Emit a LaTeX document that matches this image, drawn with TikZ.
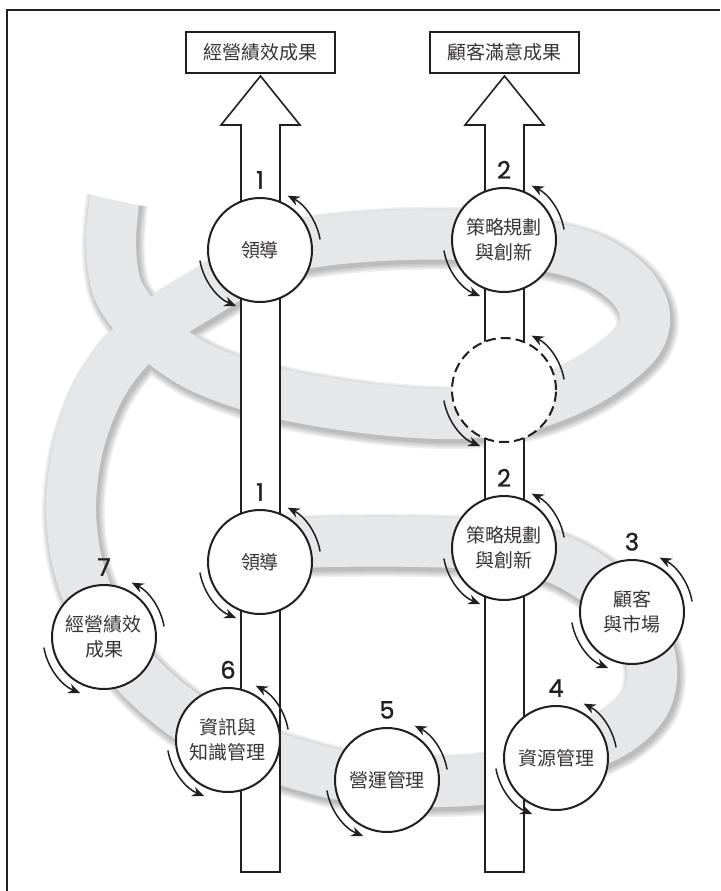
\documentclass[tikz,border=0pt]{standalone}
\usepackage{fontspec}
\newfontfamily\cjkfont{Noto Sans CJK TC}
\newfontfamily\digitfont{Poppins}[FakeBold=1.2]
\usetikzlibrary{arrows.meta,positioning,calc}
\definecolor{ink}{RGB}{35,31,32}
\definecolor{ribbon}{RGB}{230,231,232}
\tikzset{
    stage/.style={circle, draw=ink, fill=white, line width=1pt, minimum size=52pt,
                  inner sep=0pt, align=center, text=ink!90,
                  font=\cjkfont\fontsize{9.5}{12.5}\selectfont},
    ghost/.style={stage, dash pattern=on 5pt off 2.5pt},
    result/.style={rectangle, draw=ink, fill=white, line width=1pt,
                   minimum width=74.5pt, minimum height=20.5pt, text=ink!90,
                   font=\cjkfont\fontsize{9.5}{12}\selectfont},
    num/.style={inner sep=0pt, text=ink, font=\digitfont\fontsize{12}{14}\selectfont},
    spinarr/.style={-{Stealth[length=6pt,width=5pt]}, line width=0.75pt, draw=ink},
    shaft/.style={draw=ink, fill=white, line width=0.8pt},
}
% two turning arrows round a stage
\newcommand{\spin}[1]{%
    \draw[spinarr] ($(#1)+(10:30.5pt)$) arc[start angle=10, end angle=63, radius=30.5pt];
    \draw[spinarr] ($(#1)+(190:30.5pt)$) arc[start angle=190, end angle=247, radius=30.5pt];
}
\newcommand{\spiral}{plot[smooth, tension=0.55] coordinates {
    (117,180) (111,240) (118,290) (148,330) (190,362) (240,383) (300,398)
    (380,410) (460,414) (530,405) (590,380) (635,345) (645,315) (630,285)
    (590,258) (530,243) (460,235) (380,236) (310,243) (260,256) (218,285)
    (148,330) (105,380) (80,440) (71,505) (78,565) (100,622) (135,672)
    (180,712) (228,740) (283,760) (340,775) (387,781) (440,782) (490,778)
    (556,758) (615,732) (645,703) (652,668) (640,628) (605,588) (560,560)
    (504,546) (420,542) (330,542) (262,545)}}

\begin{document}
\begin{tikzpicture}[x=0.5pt, y=-0.5pt]
    \useasboundingbox (0,0) rectangle (720,891);

    % ribbon with a soft shadow
    \foreach \w in {25.5,27,28.5,30,31.5}
        {\draw[black, opacity=0.06, line width=\w pt, shift={(1.2pt,-1.8pt)}] \spiral;}
    \draw[ribbon, line width=25pt] \spiral;
    % slanted cut at the free end
    \fill[white] (70,150) -- (170,150) -- (170,209) -- (137,205) -- (70,190) -- cycle;

    \draw[ink, line width=0.8pt] (7,891) -- (7,10) -- (720,10);

    \node[result] (perf) at (260.5,52.5) {經營績效成果};
    \node[result] (sat)  at (504.5,52.5) {顧客滿意成果};

    % the two up arrows
    \draw[shaft] (241,872) -- (241,125) -- (221,125) -- ($(perf.south)+(0,2)$)
        -- (300,125) -- (280,125) -- (280,872) -- cycle;
    \draw[shaft] (485,872) -- (485,125) -- (465,125) -- ($(sat.south)+(0,2)$)
        -- (544,125) -- (524,125) -- (524,872) -- cycle;

    \node[stage] (lead1) at (260,250) {領導};
    \node[stage] (plan1) at (504,240) {策略規劃\\與創新};
    \node[ghost] (void)  at (504,390) {};
    \node[stage] (lead2) at (260,562) {領導};
    \node[stage] (plan2) at (504,548) {策略規劃\\與創新};
    \node[stage] (cust)  at (632,612) {顧客\\與市場};
    \node[stage] (res)   at (556,758) {資源管理};
    \node[stage] (ops)   at (387,780) {營運管理};
    \node[stage] (info)  at (228,740) {資訊與\\知識管理};
    \node[stage] (biz)   at (104,637) {經營績效\\成果};

    \node[num, above=4pt of lead1] (n1a) {1};
    \node[num, above=4pt of plan1] (n2a) {2};
    \node[num, above=4pt of lead2] (n1b) {1};
    \node[num, above=4pt of plan2] (n2b) {2};
    \node[num, above=4pt of cust]  (n3)  {3};
    \node[num, above=4pt of res]   (n4)  {4};
    \node[num, above=4pt of ops]   (n5)  {5};
    \node[num, above=4pt of info]  (n6)  {6};
    \node[num, above=4pt of biz]   (n7)  {7};

    \foreach \s in {lead1,plan1,void,lead2,plan2,cust,res,ops,info,biz}
        {\spin{\s}}
\end{tikzpicture}
\end{document}
